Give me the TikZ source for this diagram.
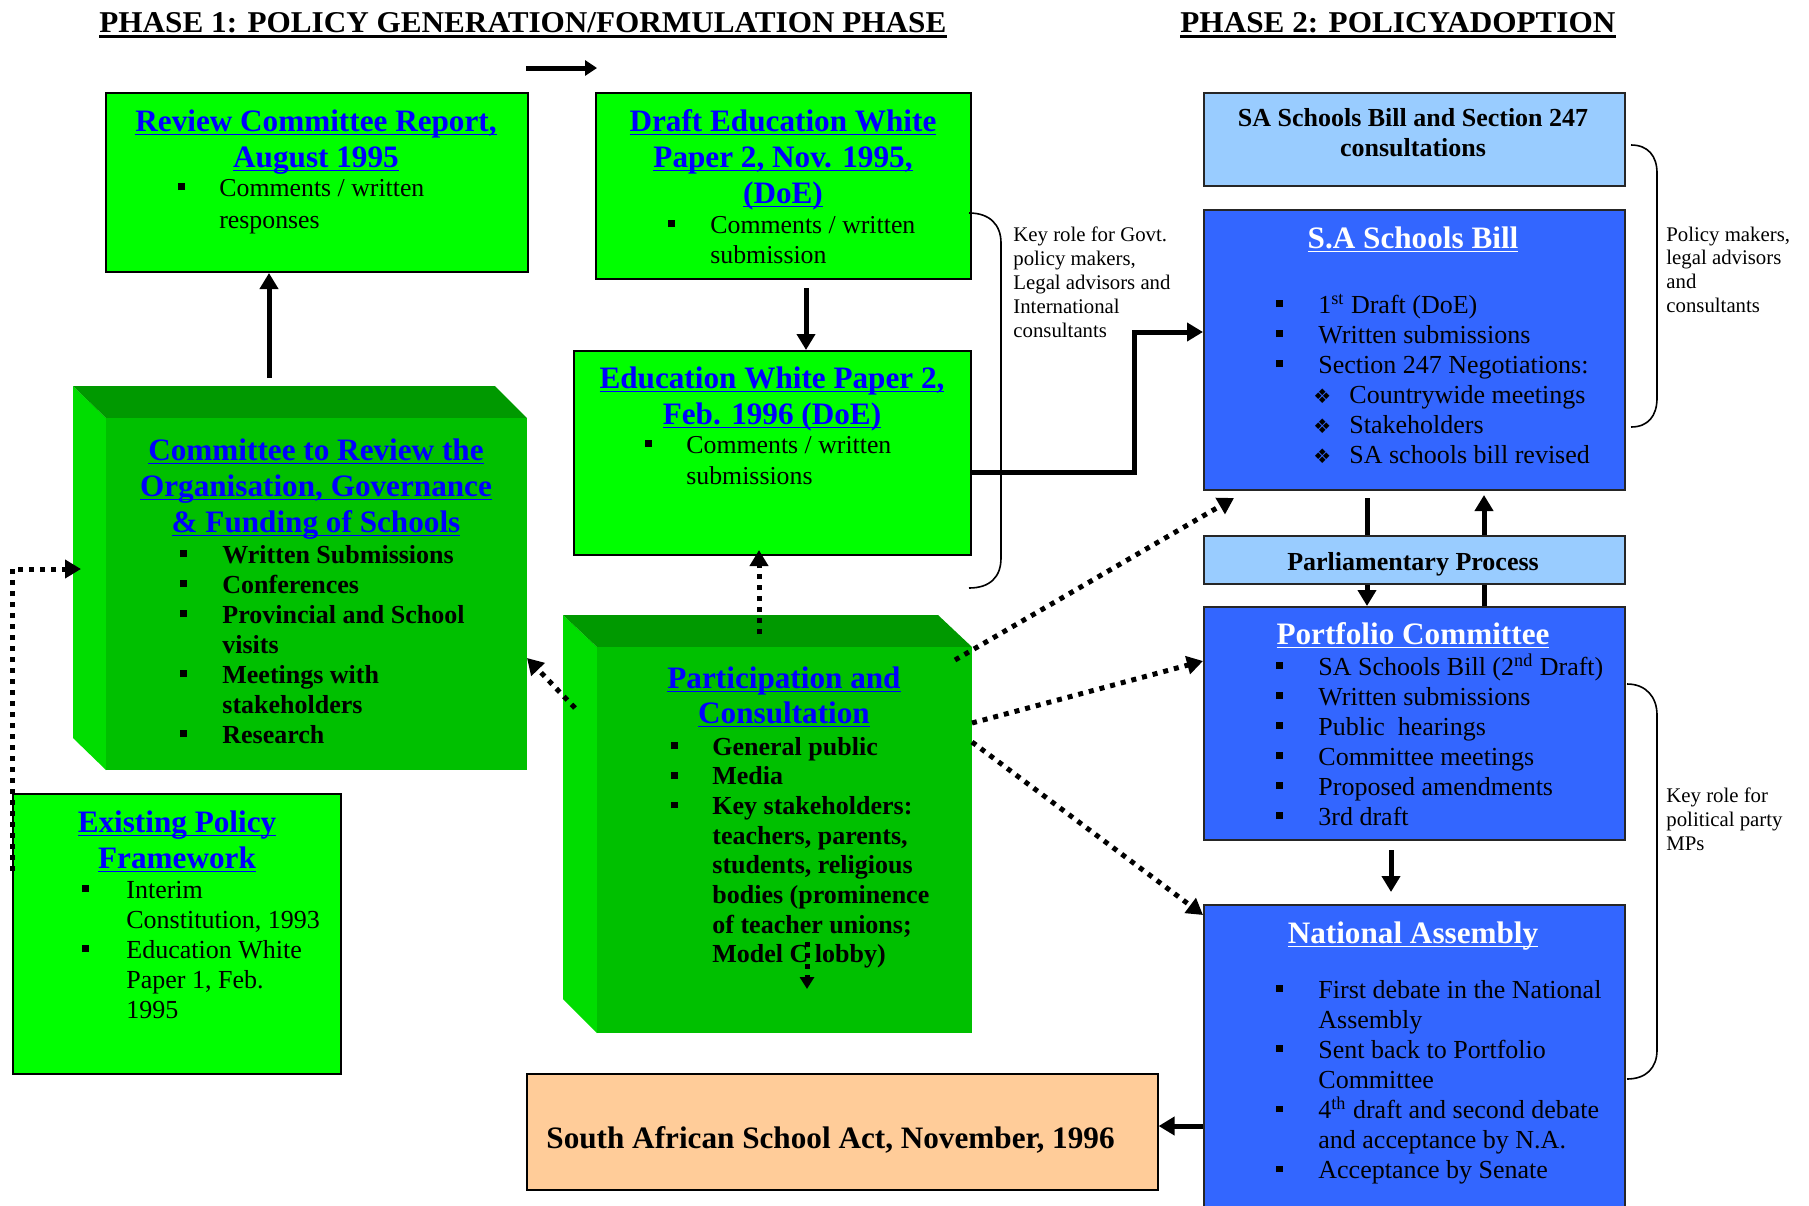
\documentclass[tikz,border=0pt]{standalone}
\usepackage{fontspec}
\setmainfont{Liberation Serif}
\newfontfamily\dejavu{DejaVu Sans}
\usetikzlibrary{arrows.meta}
\definecolor{bgreen}{HTML}{00FF00}
\definecolor{fgreen}{HTML}{00C000}
\definecolor{tgreen}{HTML}{009900}
\definecolor{lgreen}{HTML}{00DD00}
\definecolor{tblue}{HTML}{0000FF}
\definecolor{bblue}{HTML}{3366FF}
\definecolor{lblue}{HTML}{99CCFF}
\definecolor{peach}{HTML}{FFCC99}
\newlength\ulw
\newcommand\myul[1]{\settowidth\ulw{#1}\mbox{\rlap{\rule[-2.2pt]{\ulw}{0.9pt}}#1}}
\newlength\bw
\newcommand\sq{\raisebox{3pt}{\rule{3.3pt}{3.3pt}}}
\newcommand\itm{\makebox[\bw][l]{\sq}}
\newcommand\cnt{\hspace*{\bw}}
\newcommand\dia{\hspace*{18.5pt}\makebox[18pt][l]{\dejavu\fontsize{10}{10}\selectfont ❖}}
\begin{document}
\begin{tikzpicture}[x=0.5pt,y=-0.5pt,
  tx/.style={inner sep=0, anchor=base west},
  tc/.style={inner sep=0, anchor=base},
  gbox/.style={draw=black, line width=1pt, fill=bgreen, anchor=north west, inner sep=0},
  bbox/.style={draw=black!85, line width=1pt, fill=bblue, anchor=north west, inner sep=0},
  lbox/.style={draw=black!85, line width=1pt, fill=lblue, anchor=north west, inner sep=0},
  face/.style={fill=fgreen, anchor=north west, inner sep=0},
  gtitle/.style={tc, font=\fontsize{15.6}{18}\selectfont\bfseries, text=tblue},
  wtitle/.style={tc, font=\fontsize{15.6}{18}\selectfont\bfseries, text=white},
  thk/.style={line width=2.5pt, -{Triangle[length=8pt,width=9pt]}},
  thkl/.style={line width=2.5pt},
  dots/.style={line width=2.5pt, dash pattern=on 2.5pt off 3pt, -{Triangle[length=8pt,width=9pt]}},
  brace/.style={line width=0.8pt},
  side/.style={tx, font=\fontsize{10.4}{12}\selectfont}
]
\useasboundingbox (0,0) rectangle (1809,1205);
\clip (0,0) rectangle (1809,1205);

% phase titles
\node[tx] (t1) at (99,32) {\resizebox{423.5pt}{10pt}{\bfseries PHASE 1: POLICY GENERATION/FORMULATION PHASE}};
\draw[line width=1.5pt] ([yshift=-2.2pt]t1.base west) -- ([yshift=-2.2pt]t1.base east);
\node[tx] (t2) at (1180,32) {\resizebox{217.5pt}{10pt}{\bfseries PHASE 2: POLICYADOPTION}};
\draw[line width=1.5pt] ([yshift=-2.2pt]t2.base west) -- ([yshift=-2.2pt]t2.base east);
\coordinate (ta) at (526,68);
\coordinate (tb) at (597,68);
\draw[line width=2.5pt, -{Triangle[length=6pt,width=7.5pt]}] (ta) -- (tb);

% green boxes
\node[gbox, minimum width=211pt, minimum height=89.5pt] (rev) at (105,92) {};
\node[gtitle] at (316,131) {\begin{tabular}[t]{@{}c@{}}\myul{Review Committee Report,}\\ \myul{August 1995}\end{tabular}};
\node[tx, font=\fontsize{12.9}{16}\selectfont] at (178,196) {\setlength\bw{20.5pt}\begin{tabular}[t]{@{}l@{}}\itm Comments / written\\ \cnt responses\end{tabular}};

\node[gbox, minimum width=187.5pt, minimum height=93pt] (draft) at (595,92) {};
\node[gtitle] at (783,131) {\begin{tabular}[t]{@{}c@{}}\myul{Draft Education White}\\ \myul{Paper 2, Nov. 1995,}\\ \myul{(DoE)}\end{tabular}};
\node[tx, font=\fontsize{12.9}{15}\selectfont] at (668,233) {\setlength\bw{21pt}\begin{tabular}[t]{@{}l@{}}\itm Comments / written\\ \cnt submission\end{tabular}};

\node[gbox, minimum width=198.5pt, minimum height=102pt] (ewp) at (573,350) {};
\node[gtitle] at (772,388) {\begin{tabular}[t]{@{}c@{}}\myul{Education White Paper 2,}\\ \myul{Feb. 1996 (DoE)}\end{tabular}};
\node[tx, font=\fontsize{12.9}{15.5}\selectfont] at (645,453) {\setlength\bw{20.5pt}\begin{tabular}[t]{@{}l@{}}\itm Comments / written\\ \cnt submissions\end{tabular}};

% 3D committee box
\fill[lgreen] (73,386) -- (106,418) -- (106,770) -- (73,738) -- cycle;
\fill[tgreen] (73,386) -- (495,386) -- (527,418) -- (106,418) -- cycle;
\node[face, minimum width=210.5pt, minimum height=176pt] (comm) at (106,418) {};
\node[gtitle] at (316,460) {\begin{tabular}[t]{@{}c@{}}\myul{Committee to Review the}\\ \myul{Organisation, Governance}\\ \myul{\& Funding of Schools}\end{tabular}};
\node[tx, font=\fontsize{13}{15}\selectfont\bfseries] at (180,563) {\setlength\bw{21pt}\begin{tabular}[t]{@{}l@{}}\itm Written Submissions\\ \itm Conferences\\ \itm Provincial and School\\ \cnt visits\\ \itm Meetings with\\ \cnt stakeholders\\ \itm Research\end{tabular}};

% 3D participation box
\fill[lgreen] (563,615) -- (597,647) -- (597,1033) -- (563,999) -- cycle;
\fill[tgreen] (563,615) -- (938,615) -- (972,647) -- (597,647) -- cycle;
\node[face, minimum width=187.5pt, minimum height=193pt] (part) at (597,647) {};
\node[gtitle, font=\fontsize{15.6}{17.5}\selectfont\bfseries] at (784,688) {\begin{tabular}[t]{@{}c@{}}\myul{Participation and}\\ \myul{Consultation}\end{tabular}};
\node[tx, font=\fontsize{13}{14.85}\selectfont\bfseries] at (671,755) {\setlength\bw{20.5pt}\begin{tabular}[t]{@{}l@{}}\itm General public\\ \itm Media\\ \itm Key stakeholders:\\ \cnt teachers, parents,\\ \cnt students, religious\\ \cnt bodies (prominence\\ \cnt of teacher unions;\\ \cnt Model C lobby)\end{tabular}};
\coordinate (pa) at (807,942);
\coordinate (pb) at (807,989);
\draw[line width=2.5pt, dash pattern=on 2.5pt off 3pt, -{Triangle[length=6pt,width=7pt]}] (pa) -- (pb);

% existing policy
\node[gbox, minimum width=164pt, minimum height=140pt] (exist) at (12,793) {};
\node[gtitle] at (177,832) {\begin{tabular}[t]{@{}c@{}}\myul{Existing Policy}\\ \myul{Framework}\end{tabular}};
\node[tx, font=\fontsize{13}{15}\selectfont] at (82,898) {\setlength\bw{22pt}\begin{tabular}[t]{@{}l@{}}\itm Interim\\ \cnt Constitution, 1993\\ \itm Education White\\ \cnt Paper 1, Feb.\\ \cnt 1995\end{tabular}};

% right column
\node[lbox, minimum width=210.5pt, minimum height=46.5pt] (sa247) at (1203,92) {};
\node[tc, font=\fontsize{13}{15}\selectfont\bfseries] at (1413,126) {\begin{tabular}[t]{@{}c@{}}SA Schools Bill and Section 247\\ consultations\end{tabular}};

\node[bbox, minimum width=210.5pt, minimum height=140pt] (sabill) at (1203,209) {};
\node[wtitle] at (1413,248) {\myul{S.A Schools Bill}};
\node[tx, font=\fontsize{13}{15}\selectfont] at (1276,313) {\setlength\bw{21pt}\begin{tabular}[t]{@{}l@{}}\itm 1\textsuperscript{st} Draft (DoE)\\ \itm Written submissions\\ \itm Section 247 Negotiations:\\ \dia Countrywide meetings\\ \dia Stakeholders\\ \dia SA schools bill revised\end{tabular}};

\node[lbox, minimum width=210.5pt, minimum height=24pt] (parl) at (1203,535) {};
\node[tc, font=\fontsize{13}{15}\selectfont\bfseries] at (1413,570) {Parliamentary Process};

\node[bbox, minimum width=210.5pt, minimum height=116.5pt] (port) at (1203,606) {};
\node[wtitle] at (1413,644) {\myul{Portfolio Committee}};
\node[tx, font=\fontsize{13}{15}\selectfont] at (1276,675) {\setlength\bw{21pt}\begin{tabular}[t]{@{}l@{}}\itm SA Schools Bill (2\textsuperscript{nd} Draft)\\ \itm Written submissions\\ \itm Public~ hearings\\ \itm Committee meetings\\ \itm Proposed amendments\\ \itm 3rd draft\end{tabular}};

\node[bbox, minimum width=210.5pt, minimum height=160pt] (nat) at (1203,904) {};
\node[wtitle] at (1413,943) {\myul{National Assembly}};
\node[tx, font=\fontsize{13}{15}\selectfont] at (1276,998) {\setlength\bw{21pt}\begin{tabular}[t]{@{}l@{}}\itm First debate in the National\\ \cnt Assembly\\ \itm Sent back to Portfolio\\ \cnt Committee\\ \itm 4\textsuperscript{th} draft and second debate\\ \cnt and acceptance by N.A.\\ \itm Acceptance by Senate\end{tabular}};

\node[draw=black, line width=0.8pt, fill=peach, anchor=north west, inner sep=0, minimum width=315.5pt, minimum height=58pt] (act) at (526,1073) {};
\node[tx, font=\fontsize{15.6}{16}\selectfont\bfseries] at (546,1148) {South African School Act, November, 1996};

% side texts and braces
\node[side] at (1013,241) {\begin{tabular}[t]{@{}l@{}}Key role for Govt.\\ policy makers,\\ Legal advisors and\\ International\\ consultants\end{tabular}};
\draw[brace] (969,213) .. controls (990,213) and (1001,225) .. (1001,243) -- (1001,558) .. controls (1001,577) and (990,588) .. (969,588);
\node[side, font=\fontsize{10.4}{11.9}\selectfont] at (1666,241) {\begin{tabular}[t]{@{}l@{}}Policy makers,\\ legal advisors\\ and\\ consultants\end{tabular}};
\draw[brace] (1631,145) .. controls (1648,145) and (1657,156) .. (1657,173) -- (1657,398) .. controls (1657,416) and (1648,427) .. (1631,427);
\node[side] at (1666,802) {\begin{tabular}[t]{@{}l@{}}Key role for\\ political party\\ MPs\end{tabular}};
\draw[brace] (1627,684) .. controls (1646,684) and (1657,697) .. (1657,715) -- (1657,1050) .. controls (1657,1068) and (1646,1079) .. (1627,1079);

% solid connectors
\coordinate (dx) at (806,0);
\draw[thk] ([yshift=-4pt]draft.south -| dx) -- (ewp.north -| dx);
\coordinate (cx) at (269,378);
\draw[thk] (cx) -- (rev.south -| cx);
\coordinate (ex) at (970,472);
\coordinate (bx) at (1134,332);
\draw[line width=2.5pt, -{Triangle[length=8pt,width=9pt]}] (ex) -| (bx) -- (sabill.west |- bx);
\coordinate (xl) at (1367,0);
\coordinate (xr) at (1484,0);
\draw[thkl] ([yshift=-3.5pt]sabill.south -| xl) -- (parl.north -| xl);
\draw[thk] (parl.south -| xl) -- (port.north -| xl);
\draw[thkl] (port.north -| xr) -- (parl.south -| xr);
\draw[thk] (parl.north -| xr) -- ([yshift=-2pt]sabill.south -| xr);
\coordinate (nx) at (1391,0);
\draw[thk] ([yshift=-4.5pt]port.south -| nx) -- ([yshift=6pt]nat.north -| nx);
\coordinate (ay) at (0,1126);
\draw[thk] (nat.west |- ay) -- (act.east |- ay);

% dotted connectors
\coordinate (p1) at (759,634);
\draw[dots] (p1) -- ([yshift=3pt]ewp.south -| p1);
\coordinate (p2) at (575,708);
\coordinate (c2) at (527,658);
\draw[dots] (p2) -- (c2);
\coordinate (p3) at (955,660);
\coordinate (s3) at (1234,498);
\draw[dots] (p3) -- (s3);
\coordinate (p4) at (972,723);
\coordinate (s4) at (1203,661);
\draw[dots] (p4) -- (s4);
\coordinate (p5) at (972,742);
\coordinate (s5) at (1203,915);
\draw[dots] (p5) -- (s5);
\coordinate (e1) at (12,871);
\coordinate (e2) at (12,569);
\coordinate (e3) at (81,569);
\draw[dots] (e1) -- (e2) -- (e3);
\end{tikzpicture}
\end{document}
